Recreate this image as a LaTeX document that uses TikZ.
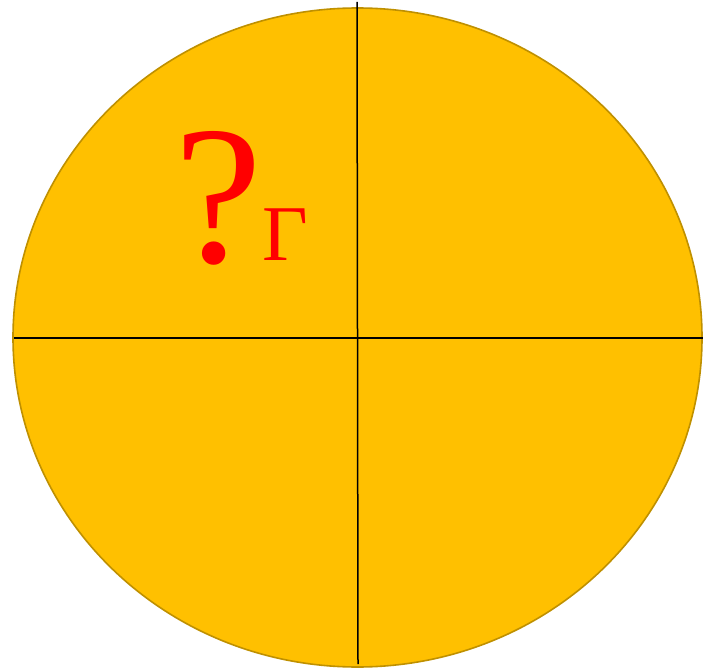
\documentclass[tikz,border=0pt]{standalone}
\usepackage{fontspec}
\setmainfont{Liberation Serif}
\usepackage{tikz}
\usetikzlibrary{positioning}
\definecolor{discfill}{HTML}{FFC000}
\definecolor{discedge}{HTML}{BF9000}

\begin{document}
\begin{tikzpicture}[
  x=1pt, y=-1pt,
  disc/.style={fill=discfill,draw=discedge,line width=1.6pt},
  axis/.style={draw=black,line width=1.5pt},
  mark label/.style={text=red,inner sep=0pt,anchor=base west}
]
\useasboundingbox (0,0) rectangle (703,671);
\draw[disc] (357.5,337.5) ellipse [x radius=344.5, y radius=329.5];
\coordinate (top) at (357,2);
\coordinate (bottom) at (358,664);
\coordinate (left) at (14,338);
\coordinate (right) at (705,338);
\draw[axis] (top) -- (bottom);
\draw[axis] (left) -- (right);
\node[mark label,font=\fontsize{198}{200}\selectfont] (q) at (174,262)
  {?\raisebox{2pt}{\fontsize{79}{80}\selectfont Γ}};
\end{tikzpicture}
\end{document}
